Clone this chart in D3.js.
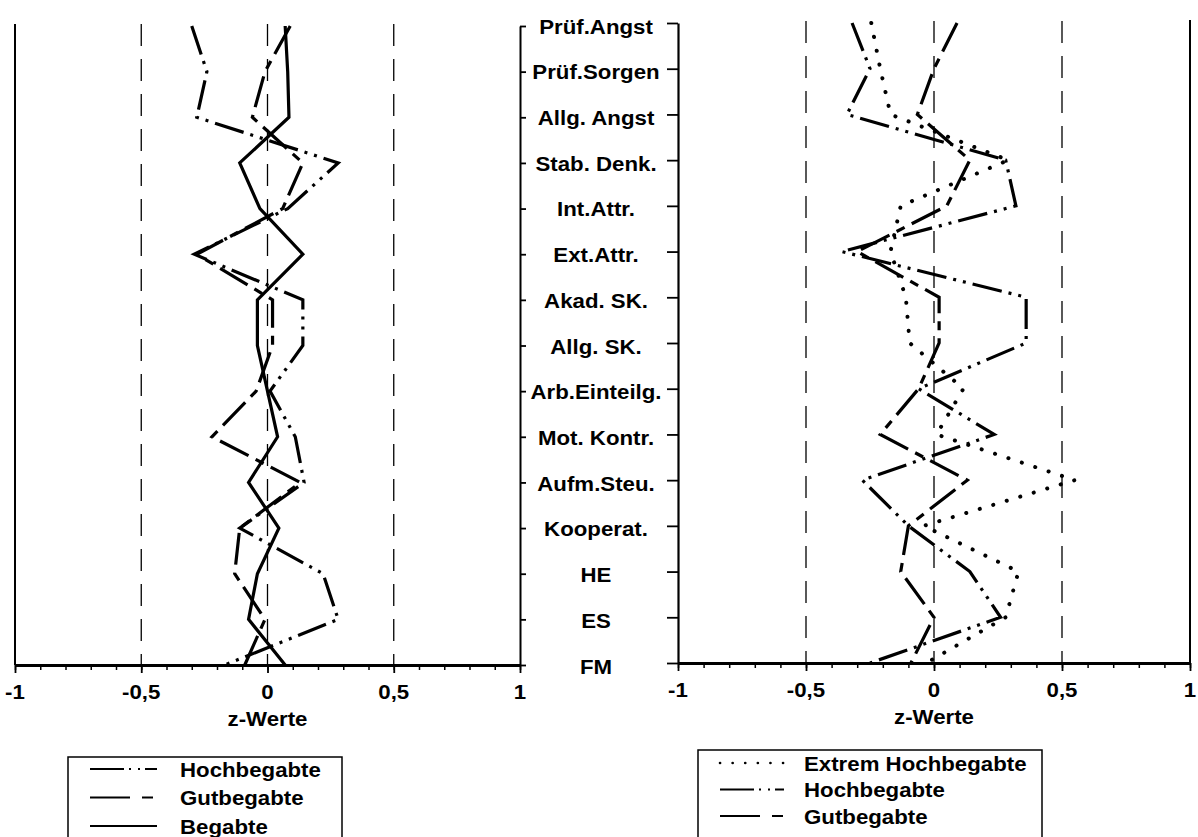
<!DOCTYPE html>
<html><head><meta charset="utf-8">
<script src="https://cdn.jsdelivr.net/npm/d3@7/dist/d3.min.js"></script>
<style>
body{margin:0;background:#fff;}
text{font-family:"Liberation Sans",Arial,sans-serif;font-weight:bold;fill:#000;}
</style>
</head><body>
<svg id="c" width="1198" height="837"></svg>
<script>
// ---------- data ----------
const categories = ["Prüf.Angst","Prüf.Sorgen","Allg. Angst","Stab. Denk.","Int.Attr.","Ext.Attr.",
  "Akad. SK.","Allg. SK.","Arb.Einteilg.","Mot. Kontr.","Aufm.Steu.","Kooperat.","HE","ES","FM"];
const tickValues = [-1, -0.5, 0, 0.5, 1];
const tickLabels = ["-1", "-0,5", "0", "0,5", "1"];
const refLines = [-0.5, 0, 0.5];
const axisTitle = "z-Werte";

// left panel
const leftHochbegabte = [-0.30,-0.24,-0.28,0.28,0.08,-0.29,0.14,0.14,0.01,0.11,0.145,-0.11,0.22,0.28,-0.17];
const leftGutbegabte  = [0.09,-0.01,-0.06,0.14,0.06,-0.28,0.02,0.02,-0.045,-0.22,0.13,-0.11,-0.13,-0.01,-0.09];
const leftBegabte     = [0.07,0.08,0.085,-0.11,-0.03,0.14,-0.04,-0.04,0.0,0.04,-0.075,0.045,-0.04,-0.075,0.07];
const leftLegend = ["Hochbegabte","Gutbegabte","Begabte"];

// right panel
const rightExtrem       = [-0.245,-0.21,-0.17,0.29,-0.13,-0.17,-0.11,-0.095,0.115,0.01,0.55,-0.04,0.33,0.28,-0.03];
const rightHochbegabte  = [-0.32,-0.25,-0.34,0.28,0.32,-0.36,0.36,0.36,-0.06,0.235,-0.28,-0.10,0.14,0.26,-0.25];
const rightGutbegabte   = [0.09,0.0,-0.065,0.14,0.05,-0.30,0.02,0.02,-0.06,-0.21,0.13,-0.10,-0.13,0.0,-0.09];
const rightLegend = ["Extrem Hochbegabte","Hochbegabte","Gutbegabte"];

// ---------- styles ----------
const STY = {
  hoch:   {dash:"30,7,3,7,3,7", w:3.2, cap:"butt", lg:"34,5,2,7,2,5,14"},
  gut:    {dash:"32,8,9,8",     w:3.2, cap:"butt", lg:"40,12,11,60"},
  beg:    {dash:null,           w:3.2, cap:"butt", lg:null},
  extrem: {dash:"0.1,14",       w:4,   cap:"round", lg:"0.1,12.5"}
};

const svg = d3.select("#c");
const FONT = 21;
const SX = 1.06; // slight horizontal widening of the scanned bold type

function label(parent, x, y, str, anchor){
  const g = parent.append("g").attr("transform",`translate(${x},${y}) scale(${SX},1)`);
  g.append("text").attr("x",0).attr("y",0).attr("dy","0.36em")
    .attr("text-anchor",anchor||"middle").attr("font-size",FONT).text(str);
  return g;
}

function drawPanel(cfg){
  const x = d3.scaleLinear().domain([-1,1]).range(cfg.xr);
  const y = d3.scalePoint().domain(categories).range(cfg.yr);
  const g = svg.append("g");
  const [y0,y1] = cfg.yr;

  // dashed reference lines
  g.selectAll("line.ref").data(refLines).join("line").attr("class","ref")
    .attr("x1",d=>x(d)).attr("x2",d=>x(d)).attr("y1",y0-2).attr("y2",y1)
    .attr("stroke","#000").attr("stroke-width",1.3).attr("stroke-dasharray","22,13");

  // minor ticks
  g.append("g").attr("transform",`translate(0,${y1})`)
    .call(d3.axisBottom(x).tickValues(d3.range(-10,11).map(i=>i/10)).tickSize(5).tickFormat(""))
    .call(a=>a.select(".domain").remove())
    .selectAll("line").attr("stroke-width",1.5);

  // major axis
  const ax = g.append("g").attr("transform",`translate(0,${y1})`)
    .call(d3.axisBottom(x).tickValues(tickValues).tickSize(8).tickSizeOuter(0).tickFormat(""));
  ax.select(".domain").attr("stroke-width",3);
  ax.selectAll(".tick line").attr("stroke-width",1.8);
  tickValues.forEach((v,i)=>label(g, x(v), y1+26, tickLabels[i]));

  // axis title
  label(g, x(0), y1+53, axisTitle);

  // side borders / axes
  if(cfg.side==="left"){
    g.append("line").attr("x1",x(-1)).attr("x2",x(-1)).attr("y1",y0-2).attr("y2",y1)
      .attr("stroke","#000").attr("stroke-width",2);
    const ra = g.append("g").attr("transform",`translate(${x(1)},0)`)
      .call(d3.axisRight(y).tickSize(6).tickSizeOuter(0).tickFormat(""));
    ra.select(".domain").attr("stroke-width",2);
    ra.selectAll(".tick line").attr("stroke-width",1.8);
  } else {
    const la = g.append("g").attr("transform",`translate(${x(-1)},0)`)
      .call(d3.axisLeft(y).tickSize(11).tickSizeOuter(0).tickFormat(""));
    la.select(".domain").attr("stroke-width",2.2);
    la.selectAll(".tick line").attr("stroke-width",1.8);
    g.append("line").attr("x1",x(1)).attr("x2",x(1)).attr("y1",y0-3).attr("y2",y1)
      .attr("stroke","#000").attr("stroke-width",2);
  }

  // series
  const line = d3.line().x(d=>x(d)).y((d,i)=>y(categories[i]));
  cfg.series.forEach(s=>{
    const st = STY[s.style];
    g.append("path").datum(s.values).attr("d",line).attr("fill","none")
      .attr("stroke","#000").attr("stroke-width",st.w).attr("stroke-linecap",st.cap)
      .attr("stroke-linejoin","miter")
      .attr("stroke-dasharray",st.dash);
  });

  // legend
  const L = cfg.legend;
  const lg = svg.append("g");
  lg.append("rect").attr("x",L.x).attr("y",L.y).attr("width",L.w).attr("height",L.h)
    .attr("fill","#fff").attr("stroke","#000").attr("stroke-width",1.5);
  cfg.series.forEach((s,i)=>{
    const st = STY[s.style];
    const cy = L.y + L.first + i*L.step;
    lg.append("line").attr("x1",L.x+L.s0).attr("x2",L.x+L.s1).attr("y1",cy).attr("y2",cy)
      .attr("stroke","#000").attr("stroke-linecap",st.cap).attr("stroke-dasharray",st.lg)
      .attr("stroke-width", s.style==="extrem"?2.6:2);
    label(lg, L.x+L.tx, cy, s.name, "start");
  });
  return y;
}

drawPanel({
  xr:[15,520], yr:[26,665], side:"left",
  series:[
    {name:leftLegend[0], values:leftHochbegabte, style:"hoch"},
    {name:leftLegend[1], values:leftGutbegabte, style:"gut"},
    {name:leftLegend[2], values:leftBegabte, style:"beg"}
  ],
  legend:{x:68,y:757,w:274,h:95,first:12,step:28.5,s0:22,s1:89,tx:112}
});

const yR = drawPanel({
  xr:[678,1190], yr:[23,663], side:"right",
  series:[
    {name:rightLegend[0], values:rightExtrem, style:"extrem"},
    {name:rightLegend[1], values:rightHochbegabte, style:"hoch"},
    {name:rightLegend[2], values:rightGutbegabte, style:"gut"}
  ],
  legend:{x:698,y:750,w:344,h:100,first:13,step:26.5,s0:22,s1:86,tx:106}
});

// category labels between the panels
const cl = svg.append("g");
categories.forEach(c=>label(cl, 596, yR(c)+3, c));
</script>
</body></html>
